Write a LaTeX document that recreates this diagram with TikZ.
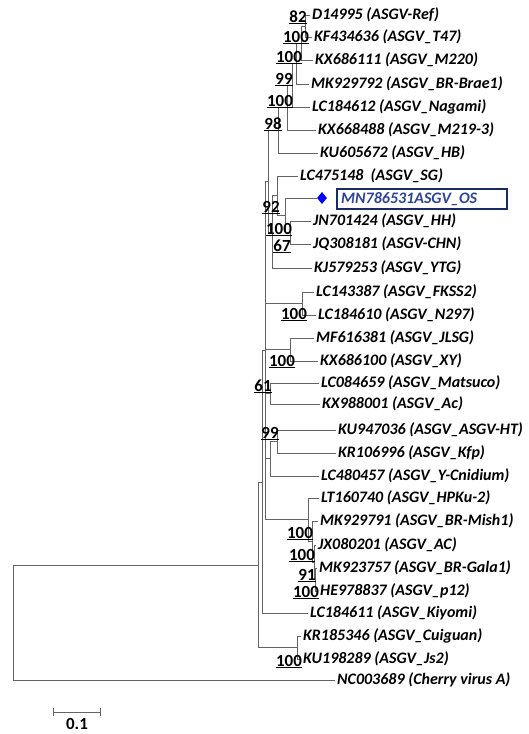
\documentclass[tikz,border=0pt]{standalone}
\usepackage{fontspec}
\setmainfont{Carlito}
\usepackage{tikz}
\usetikzlibrary{shapes.geometric}

\definecolor{treegray}{RGB}{100,100,100}
\definecolor{navybox}{RGB}{24,44,98}
\definecolor{navytext}{RGB}{44,68,148}

\tikzset{
  branch/.style={draw=treegray, line width=1pt},
  leaf/.style={anchor=west, inner xsep=2pt, inner ysep=0pt,
    font=\fontsize{16}{19}\selectfont\bfseries\itshape},
  boot/.style={anchor=base, inner sep=0pt,
    font=\fontsize{17}{20}\selectfont\bfseries},
}

\begin{document}
\begin{tikzpicture}[x=1pt, y=-1pt]
  \useasboundingbox (0,0) rectangle (528,734);
  % leaves
  \node[leaf] (l1) at (310,15) {D14995 (ASGV-Ref)};
  \node[leaf] (l2) at (312,37) {KF434636 (ASGV\_T47)};
  \node[leaf] (l3) at (313,60) {KX686111 (ASGV\_M220)};
  \node[leaf] (l4) at (309,84) {MK929792 (ASGV\_BR-Brae1)};
  \node[leaf] (l5) at (310,107) {LC184612 (ASGV\_Nagami)};
  \node[leaf] (l6) at (316,130) {KX668488 (ASGV\_M219-3)};
  \node[leaf] (l7) at (318,153) {KU605672 (ASGV\_HB)};
  \node[leaf] (l8) at (298,176) {LC475148~~(ASGV\_SG)};
  \node[diamond, fill=blue, minimum width=10pt, minimum height=12pt, inner sep=0pt] (l9) at (322,198) {};
  \node[leaf, draw=navybox, line width=2.4pt, text=navytext, text width=162pt,
    inner xsep=4pt, minimum height=20pt] (mn) at (336,199) {MN786531ASGV\_OS};
  \node[leaf] (l10) at (311,221) {JN701424 (ASGV\_HH)};
  \node[leaf] (l11) at (311,244) {JQ308181 (ASGV-CHN)};
  \node[leaf] (l12) at (312,268) {KJ579253 (ASGV\_YTG)};
  \node[leaf] (l13) at (314,292) {LC143387 (ASGV\_FKSS2)};
  \node[leaf] (l14) at (316,315) {LC184610 (ASGV\_N297)};
  \node[leaf] (l15) at (314,338) {MF616381 (ASGV\_JLSG)};
  \node[leaf] (l16) at (318,361) {KX686100 (ASGV\_XY)};
  \node[leaf] (l17) at (319,383) {LC084659 (ASGV\_Matsuco)};
  \node[leaf] (l18) at (320,404) {KX988001 (ASGV\_Ac)};
  \node[leaf] (l19) at (336,430) {KU947036 (ASGV\_ASGV-HT)};
  \node[leaf] (l20) at (336,453) {KR106996 (ASGV\_Kfp)};
  \node[leaf] (l21) at (319,476) {LC480457 (ASGV\_Y-Cnidium)};
  \node[leaf] (l22) at (319,498) {LT160740 (ASGV\_HPKu-2)};
  \node[leaf] (l23) at (318,521) {MK929791 (ASGV\_BR-Mish1)};
  \node[leaf] (l24) at (316,545) {JX080201 (ASGV\_AC)};
  \node[leaf] (l25) at (317,568) {MK923757 (ASGV\_BR-Gala1)};
  \node[leaf] (l26) at (318,591) {HE978837 (ASGV\_p12)};
  \node[leaf] (l27) at (308,613) {LC184611 (ASGV\_Kiyomi)};
  \node[leaf] (l28) at (301,636) {KR185346 (ASGV\_Cuiguan)};
  \node[leaf] (l29) at (301,659) {KU198289 (ASGV\_Js2)};
  \node[leaf] (l30) at (335,680) {NC003689 (Cherry virus A)};
  % inner nodes
  \coordinate (a1) at (305,26);
  \coordinate (a2) at (301,43);
  \coordinate (a3) at (296,63.5);
  \coordinate (a4) at (292,85.3);
  \coordinate (a5) at (287,107.6);
  \coordinate (a6) at (278,130.3);
  \coordinate (b1) at (290,232.5);
  \coordinate (bx) at (285,215.8);
  \coordinate (b0) at (277,195.9);
  \coordinate (c2) at (272,232);
  \coordinate (c1) at (268,181.1);
  \coordinate (d1) at (302,303.5);
  \coordinate (d2) at (290,349.5);
  \coordinate (e1) at (270,393.5);
  \coordinate (e3) at (277,441.5);
  \coordinate (e2) at (270,458.8);
  \coordinate (f4) at (315,579.5);
  \coordinate (f3) at (314,562.3);
  \coordinate (f2) at (312,541.6);
  \coordinate (f1) at (308,519.8);
  \coordinate (sp) at (265,350.5);
  \coordinate (g2) at (262,482);
  \coordinate (k1) at (297,647.5);
  \coordinate (g1) at (258,565);
  \coordinate (root) at (13,622.5);
  % branches
  \draw[branch] (a1) |- (l1.west) (a1) |- (l2.west);
  \draw[branch] (a2) |- (a1) (a2) |- (l3.west);
  \draw[branch] (a3) |- (a2) (a3) |- (l4.west);
  \draw[branch] (a4) |- (a3) (a4) |- (l5.west);
  \draw[branch] (a5) |- (a4) (a5) |- (l6.west);
  \draw[branch] (a6) |- (a5) (a6) |- (l7.west);
  \draw[branch] (b1) |- (l10.west) (b1) |- (l11.west);
  \draw[branch] (bx) |- (l9.west) (bx) |- (b1);
  \draw[branch] (b0) |- (l8.west) (b0) |- (bx);
  \draw[branch] (c2) |- (b0) (c2) |- (l12.west);
  \draw[branch] (c1) |- (a6) (c1) |- (c2);
  \draw[branch] (d1) |- (l13.west) (d1) |- (l14.west);
  \draw[branch] (d2) |- (l15.west) (d2) |- (l16.west);
  \draw[branch] (e1) |- (l17.west) (e1) |- (l18.west);
  \draw[branch] (e3) |- (l19.west) (e3) |- (l20.west);
  \draw[branch] (e2) |- (e3) (e2) |- (l21.west);
  \draw[branch] (f4) |- (l25.west) (f4) |- (l26.west);
  \draw[branch] (f3) |- (l24.west) (f3) |- (f4);
  \draw[branch] (f2) |- (l23.west) (f2) |- (f3);
  \draw[branch] (f1) |- (l22.west) (f1) |- (f2);
  \draw[branch] (sp) |- (c1) (sp) |- (d1) (sp) |- (d2)
                (sp) |- (e1) (sp) |- (e2) (sp) |- (f1);
  \draw[branch] (g2) |- (sp) (g2) |- (l27.west);
  \draw[branch] (k1) |- (l28.west) (k1) |- (l29.west);
  \draw[branch] (g1) |- (g2) (g1) |- (k1);
  \draw[branch] (root) |- (g1) (root) |- (l30.west);
  % bootstrap values
  \node[boot] (bs1) at (298,22) {\underline{82}};
  \node[boot] (bs2) at (296,42) {\underline{100}};
  \node[boot] (bs3) at (289,62) {\underline{100}};
  \node[boot] (bs4) at (284,84) {\underline{99}};
  \node[boot] (bs5) at (280,106) {\underline{100}};
  \node[boot] (bs6) at (273,129) {\underline{98}};
  \node[boot] (bs7) at (271,212) {\underline{92}};
  \node[boot] (bs8) at (279,234) {\underline{100}};
  \node[boot] (bs9) at (282,251) {\underline{67}};
  \node[boot] (bs10) at (294,319) {\underline{100}};
  \node[boot] (bs11) at (282,366) {\underline{100}};
  \node[boot] (bs12) at (263,391) {\underline{61}};
  \node[boot] (bs13) at (270,438) {\underline{99}};
  \node[boot] (bs14) at (300,538) {\underline{100}};
  \node[boot] (bs15) at (302,560) {\underline{100}};
  \node[boot] (bs16) at (307,580) {\underline{91}};
  \node[boot] (bs17) at (306,597) {\underline{100}};
  \node[boot] (bs18) at (289,666) {\underline{100}};
  % scale bar
  \coordinate (sb1) at (53,712);
  \coordinate (sb2) at (101,712);
  \draw[branch, |-|] (sb1) -- (sb2);
  \node[font=\fontsize{17}{20}\selectfont\bfseries, below=1pt] (sblabel) at (77,714) {0.1};
\end{tikzpicture}
\end{document}
